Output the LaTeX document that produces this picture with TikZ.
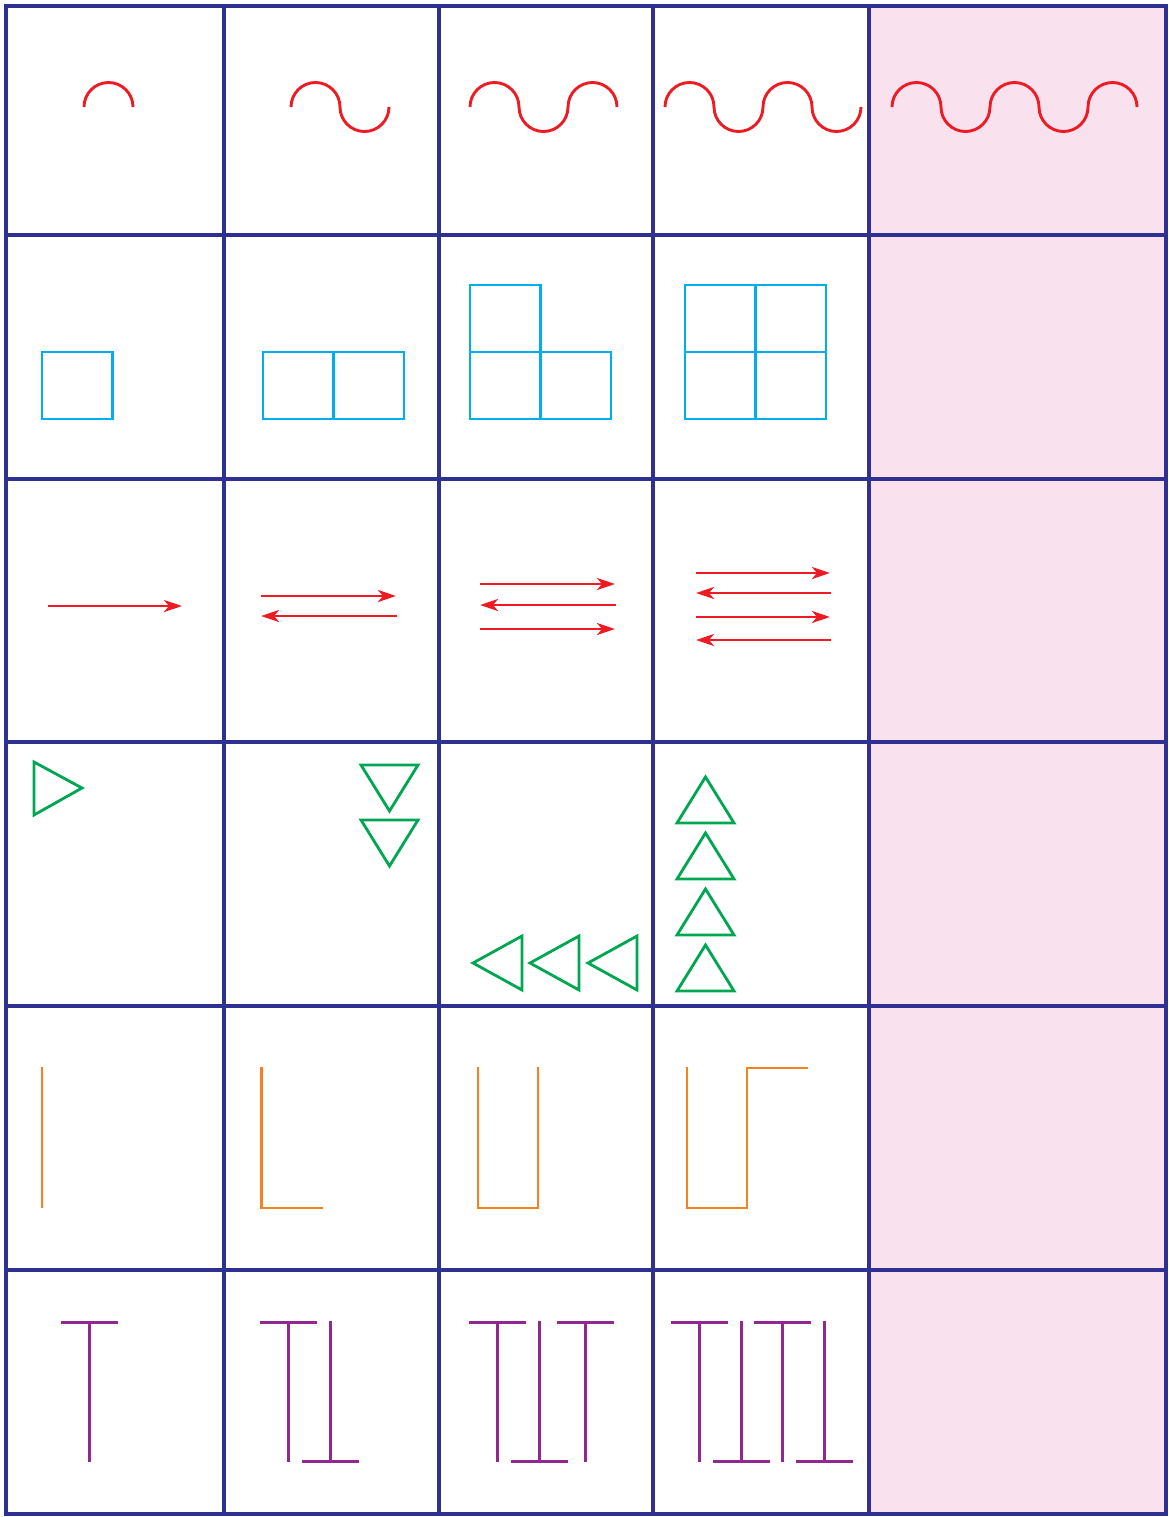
\documentclass[tikz,border=0pt]{standalone}
\usepackage{tikz}
\usetikzlibrary{arrows.meta}

\definecolor{gridblue}{RGB}{46,49,146}
\definecolor{pinkcell}{RGB}{249,225,238}
\definecolor{linered}{RGB}{237,28,36}
\definecolor{sqcyan}{RGB}{0,174,239}
\definecolor{trigreen}{RGB}{0,166,81}
\definecolor{elorange}{RGB}{245,130,32}
\definecolor{teepurple}{RGB}{146,39,143}

\begin{document}
\begin{tikzpicture}[
    x=1pt, y=1pt,
    gridline/.style={draw=gridblue, line width=3.2pt},
    wave/.style={draw=linered, line width=2.9pt},
    sq/.style={draw=sqcyan, line width=2.7pt},
    arr/.style={-{Stealth[length=18pt,width=12pt,inset=5pt]}, draw=linered, line width=2.9pt},
    tri/.style={draw=trigreen, line width=2.8pt},
    elbow/.style={draw=elorange, line width=2.9pt},
    tee/.style={draw=teepurple, line width=3pt}
]
    \useasboundingbox (0,0) rectangle (1169,-1517);

    % Last column is shaded
    \fill[pinkcell] (869,-6) rectangle (1166,-1514);

    % Row 1: waves with 1..5 half periods
    \foreach \x/\n in {84/1, 291/2, 470/3, 665/4, 892/5}
        \draw[wave] (\x,-107) \foreach \i in {1,...,\n} {
            arc[start angle=180, delta angle={180-360*mod(\i,2)}, radius=24.5] };

    % Row 2: squares
    \foreach \x/\y in {42/352, 263/352, 333.5/352, 470/352, 540.5/352, 470/285,
                       685/352, 755.5/352, 685/285, 755.5/285}
        \draw[sq] (\x,-\y) rectangle ++(70.5,-67);

    % Row 3: arrows, alternating direction
    \foreach \xa/\xb/\y in {48/182/606, 261/396/596, 397/261/616,
                            480/615/584, 616/480/605, 480/615/629,
                            696/830/573, 831/696/593, 696/830/617, 831/696/640}
        \draw[arr] (\xa,-\y) -- (\xb,-\y);

    % Row 4: triangles
    \draw[tri] (34,-762) -- (82,-788) -- (34,-815) -- cycle;
    \foreach \y in {765, 820}
        \draw[tri] (361,-\y) -- (418,-\y) -- (389.5,-\y-46) -- cycle;
    \foreach \x in {473, 530, 588}
        \draw[tri] (\x,-963) -- (\x+49,-936) -- (\x+49,-990) -- cycle;
    \foreach \y in {777, 833, 889, 945}
        \draw[tri] (705.5,-\y) -- (734,-\y-46) -- (677,-\y-46) -- cycle;

    % Row 5: meander steps
    \draw[elbow] (42,-1067) -- (42,-1208);
    \draw[elbow] (261.5,-1067) -- (261.5,-1208) -- (323,-1208);
    \draw[elbow] (478,-1067) -- (478,-1208) -- (538,-1208) -- (538,-1067);
    \draw[elbow] (687,-1067) -- (687,-1208) -- (747,-1208) -- (747,-1068) -- (808,-1068);

    % Row 6: upright and upside-down T's
    \foreach \x in {89.5, 288.5, 497.5, 585.5, 699.5, 782.5} {
        \draw[tee] (\x-28.5,-1322) -- (\x+28.5,-1322);
        \draw[tee] (\x,-1322) -- (\x,-1462);
    }
    \foreach \x in {330.5, 539.5, 741.5, 824.5} {
        \draw[tee] (\x-28.5,-1461) -- (\x+28.5,-1461);
        \draw[tee] (\x,-1321) -- (\x,-1461);
    }

    % Grid
    \foreach \x in {224, 439, 653}
        \draw[gridline] (\x,-6) -- (\x,-1514);
    \foreach \y in {235, 479, 742, 1006, 1270}
        \draw[gridline] (6,-\y) -- (1166,-\y);
    \draw[gridline, line width=4.6pt] (869,-6) -- (869,-1514);
    \draw[gridline] (6,-6) rectangle (1166,-1514);
\end{tikzpicture}
\end{document}
